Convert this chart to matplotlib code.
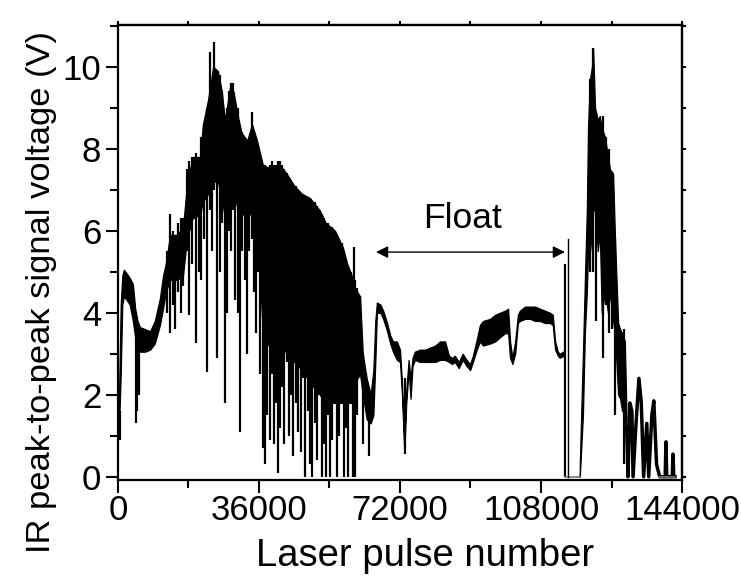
import matplotlib
matplotlib.use("Agg")
import matplotlib.pyplot as plt
from matplotlib.ticker import MultipleLocator

plt.rcParams['font.family'] = ['Liberation Sans', 'DejaVu Sans']

# ---- dense signal band (pulse number, lower, upper) ----
band_x = [200, 700, 1100, 1500, 2300, 3000, 3800, 4400, 5000, 5600, 6900, 8200, 9400,
          10700, 11500, 12200, 13300, 15000, 16600, 17600, 19000, 20900, 21700, 23000,
          24300, 25500, 26500, 27300, 28600, 29500, 30400, 31500, 33000, 34200, 35500,
          37000, 39500, 41400, 43000, 45000, 47000, 49000, 51500, 53000, 55400, 57400,
          58500, 59700, 60500, 61800, 62500, 63500, 64500, 65200, 65700, 66100, 67000,
          67700, 68700, 69500, 70200, 71200, 72000, 72500, 73100, 73600, 74200, 74700,
          75200, 75800, 77100, 78400, 79700, 81000, 82200, 83500, 84500, 85300, 86000,
          87000, 88000, 89000, 89900, 90600, 91600, 92400, 93200, 95000, 96300, 97500,
          98800, 99600, 100100, 100700, 101400, 102100, 102600, 103900, 105200, 106500,
          107700, 109000, 110300, 111000, 111600, 112300, 112800, 113600, 114000]
band_lo = [1.0, 2.5, 4.2, 4.4, 4.3, 4.2, 3.8, 3.4, 3.2, 3.05, 3.05, 3.1, 3.25,
           3.7, 4.1, 4.5, 4.8, 4.8, 4.9, 5.8, 6.3, 6.4, 6.7, 6.9,
           7.2, 7.2, 6.8, 6.3, 6.9, 6.9, 6.6, 6.4, 6.4, 6.4, 6.1,
           3.5, 3.0, 3.3, 3.0, 2.8, 2.6, 2.3, 2.0, 1.8, 1.8, 1.8,
           1.8, 1.8, 2.3, 2.5, 2.0, 1.4, 1.3, 1.5, 2.8, 4.0, 4.0,
           3.85, 3.55, 3.25, 3.05, 2.85, 2.8, 2.0, 0.6, 1.8, 2.6, 1.9,
           2.7, 2.85, 2.8, 2.8, 2.8, 2.8, 2.85, 2.85, 2.8, 2.75, 2.8,
           2.65, 2.85, 2.7, 2.6, 2.8, 3.1, 3.3, 3.2, 3.25, 3.3, 3.4,
           3.5, 3.5, 2.9, 2.75, 3.0, 3.75, 3.8, 3.85, 3.85, 3.8,
           3.8, 3.75, 3.75, 3.7, 3.1, 2.95, 2.9, 2.95, 2.9]
band_hi = [1.6, 4.2, 4.9, 5.05, 4.95, 4.85, 4.7, 4.1, 3.8, 3.65, 3.6, 3.55, 3.8,
           4.35, 4.9, 5.2, 5.9, 5.9, 6.1, 7.1, 7.8, 7.8, 8.6, 9.2,
           10.0, 9.9, 9.4, 8.7, 9.5, 9.4, 8.9, 8.4, 8.2, 8.6, 8.2,
           7.6, 7.5, 7.6, 7.4, 7.1, 6.9, 6.8, 6.5, 6.2, 6.0, 5.6,
           5.2, 4.9, 4.6, 4.4, 3.0, 2.4, 2.0, 2.6, 3.8, 4.25, 4.2,
           4.05, 3.75, 3.45, 3.3, 3.3, 3.1, 2.3, 0.9, 2.1, 2.85, 2.4,
           2.9, 3.05, 3.1, 3.1, 3.15, 3.2, 3.3, 3.3, 2.95, 2.9, 2.95,
           2.8, 3.0, 2.85, 2.75, 2.95, 3.35, 3.7, 3.8, 3.85, 3.95, 4.0,
           4.05, 4.1, 3.3, 2.9, 3.3, 3.95, 4.05, 4.15, 4.15, 4.15,
           4.1, 4.05, 4.0, 3.95, 3.3, 3.05, 3.0, 3.05, 3.0]

# ---- second burst after the float (pulse number, lower, upper) ----
burst_x = [117900, 118700, 119200, 119700, 120000, 120500, 121000, 121300, 121800,
           122500, 123000, 123500, 124300, 125100, 125600, 126400, 126900, 127400,
           127700, 128200, 128700, 129400, 129900]
burst_lo = [0.0, 1.5, 3.5, 4.5, 5.5, 6.0, 5.5, 6.5, 6.5, 5.5, 6.0, 4.0, 4.5, 4.0,
            4.5, 3.8, 3.5, 2.5, 2.0, 1.9, 1.6, 1.6, 0.3]
burst_hi = [0.3, 3.0, 4.8, 6.5, 8.5, 9.7, 10.0, 10.45, 9.0, 8.7, 8.8, 8.5, 8.3, 7.8,
            7.5, 7.4, 5.8, 4.5, 3.75, 3.6, 3.5, 3.3, 1.2]

# ---- decaying tail (pulse number, signal) ----
tail_x = [129900, 130200, 130700, 131200, 131500, 132200, 133000, 133600, 134200,
          135000, 135500, 136300, 136800, 137500, 138300, 139700, 139900, 140100,
          141500, 141700, 141900, 142200]
tail_y = [1.2, 0.0, 1.8, 1.6, 0.0, 1.2, 2.4, 1.8, 0.0, 1.3, 0.0, 1.5, 1.85, 0.3,
          0.0, 0.0, 0.85, 0.0, 0.0, 0.55, 0.0, 0.0]

# ---- individual spikes (pulse number, bottom, top) ----
spike_x = [400, 4600, 4900, 5300, 12500, 13280, 14000, 14550, 15300, 16000, 16590,
           17620, 18130, 18900, 19910, 20600, 21300, 22000, 22720, 23490, 24000,
           24510, 25270, 26040, 26500, 27320, 27830, 28300, 28800, 29360, 29900,
           30640, 31150, 31700, 32420, 32930, 33500, 34210, 34700, 35240, 35800,
           36300,
           37020, 37530, 38050, 38800, 39300, 39800, 40300, 40800, 41360, 41900,
           42400, 43150, 43700, 44300, 44800, 45500, 46000, 46700, 47300, 47800,
           48400, 49000, 49600, 50200, 50800, 51400, 52000, 52500, 53100, 53700,
           54100, 54700, 55300, 55900, 56500, 57100, 57600, 58200, 58800, 59400,
           59990, 60250, 60500, 61000, 61700, 62500, 64000, 73300,
           114100,
           120500, 121270, 122000, 123820, 124600, 125350, 126100, 127000, 129300]
spike_lo = [0.9, 1.3, 1.6, 2.0, 4.0, 3.5, 4.2, 3.6, 4.5, 4.0, 4.65,
            5.5, 3.95, 5.2, 3.25, 5.0, 4.8, 5.8, 2.55, 6.5, 5.5,
            7.0, 2.9, 5.0, 6.2, 1.8, 4.0, 6.0, 5.5, 6.5, 4.3,
            4.0, 1.1, 5.5, 4.8, 3.0, 5.5, 5.8, 4.5, 3.5, 5.0,
            2.5,
            0.7, 0.3, 1.5, 0.9, 2.5, 0.8, 1.8, 0.1, 1.2, 2.2,
            0.8, 2.8, 1.0, 2.0, 0.5, 1.8, 1.1, 0.6, 2.4, 0.0,
            1.6, 0.3, 0.0, 1.3, 0.4, 2.0, 0.0, 0.8, 0.0, 1.5,
            0.0, 0.9, 2.2, 0.0, 1.0, 2.6, 0.0, 1.2, 0.0, 2.0,
            0.0, 2.0, 0.0, 1.5, 2.8, 0.8, 0.5, 0.55,
            0.0,
            5.0, 5.0, 3.8, 2.9, 4.2, 3.5, 3.6, 1.5, 0.3]
spike_hi = [1.6, 3.8, 3.6, 3.5, 5.5, 6.4, 6.0, 5.8, 6.2, 6.3, 6.3,
            7.5, 7.7, 7.8, 7.9, 7.8, 8.3, 8.6, 8.8, 10.35, 9.6,
            10.6, 9.9, 9.8, 9.4, 8.7, 9.0, 9.4, 9.6, 9.6, 9.2,
            9.0, 8.5, 8.4, 8.2, 8.2, 8.3, 8.9, 8.4, 8.2, 8.0,
            7.8,
            7.6, 7.6, 7.5, 7.6, 7.7, 7.6, 7.6, 7.7, 7.7, 7.6,
            7.5, 7.4, 7.3, 7.2, 7.1, 7.1, 7.0, 6.9, 6.9, 6.8,
            6.8, 6.8, 6.7, 6.7, 6.6, 6.5, 6.4, 6.3, 6.2, 6.2,
            6.1, 6.1, 6.0, 5.9, 5.8, 5.7, 5.5, 5.3, 5.1, 5.0,
            4.9, 5.6, 4.8, 4.6, 4.4, 3.0, 2.2, 2.4,
            5.2,
            9.7, 10.45, 8.9, 8.8, 8.3, 8.0, 7.4, 5.8, 3.6]

# ---- zero-signal stretches (start, end) ----
zero_start = [114200, 138000]
zero_end = [117900, 142200]

# ---- annotation ----
float_label = "Float"
float_start = 65870
float_end = 114120
float_level = 5.48
float_text_x = 88080
float_text_y = 6.29
float_marker_x = 114900
float_marker_top = 5.8
xticks = [0, 36000, 72000, 108000, 144000]
yticks = [0, 2, 4, 6, 8, 10]

fig = plt.figure(figsize=(7.41, 5.79), dpi=100)
ax = fig.add_axes([0.1592, 0.171, 0.7612, 0.7858])

ax.fill_between(band_x, band_lo, band_hi, color='black', linewidth=0.9)
ax.fill_between(burst_x, burst_lo, burst_hi, color='black', linewidth=0.9)
ax.plot(tail_x, tail_y, color='black', linewidth=2.5)
ax.vlines(spike_x, spike_lo, spike_hi, color='black', linewidth=1.6)
for s, e in zip(zero_start, zero_end):
    ax.plot([s, e], [0, 0], color='#777777', linewidth=1.2)
ax.plot([float_marker_x, float_marker_x], [0, float_marker_top], color='black', linewidth=1.0)

ax.annotate('', xy=(float_start, float_level), xytext=(float_end, float_level),
            arrowprops=dict(arrowstyle='<|-|>', color='black', lw=1.0,
                            mutation_scale=18, shrinkA=0, shrinkB=0))
ax.text(float_text_x, float_text_y, float_label, fontsize=25.5,
        ha='center', va='center')

ax.set_xlim(0, 144000)
ax.set_ylim(-0.08, 11.02)
ax.set_xticks(xticks)
ax.set_yticks(yticks)
ax.xaxis.set_minor_locator(MultipleLocator(18000))
ax.yaxis.set_minor_locator(MultipleLocator(1))
ax.tick_params(axis='both', which='major', direction='out', length=9, width=1.5,
               labelsize=25, pad=3)
ax.tick_params(axis='x', which='major', pad=1)
ax.tick_params(axis='both', which='minor', direction='out', length=6, width=1.5)
for spine in ax.spines.values():
    spine.set_linewidth(1.6)

# small ticks on the top and right frame
sec_x = ax.secondary_xaxis('top')
sec_x.set_xticks(xticks)
sec_x.xaxis.set_minor_locator(MultipleLocator(18000))
sec_x.tick_params(which='both', direction='out', length=3, width=1.5, labeltop=False)
sec_x.spines['top'].set_linewidth(1.6)
sec_y = ax.secondary_yaxis('right')
sec_y.set_yticks(yticks)
sec_y.yaxis.set_minor_locator(MultipleLocator(1))
sec_y.tick_params(which='both', direction='out', length=3, width=1.5, labelright=False)
sec_y.spines['right'].set_linewidth(1.6)

ax.set_xlabel('Laser pulse number', fontsize=27.5)
ax.xaxis.set_label_coords(0.545, -0.128)
ax.set_ylabel('IR peak-to-peak signal voltage (V)', fontsize=24.8)
ax.yaxis.set_label_coords(-0.108, 0.412)

fig.savefig('out.png', dpi=100)
